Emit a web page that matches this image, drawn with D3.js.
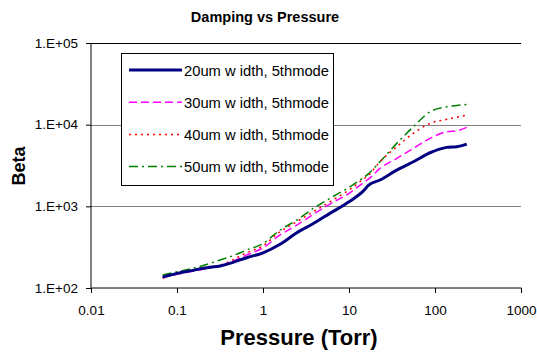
<!DOCTYPE html>
<html>
<head>
<meta charset="utf-8">
<script src="https://cdn.jsdelivr.net/npm/d3@7"></script>
<style>
  body { margin: 0; background: #fff; }
  svg { font-family: "Liberation Sans", Arial, sans-serif; }
</style>
</head>
<body>
<svg id="chart" width="537" height="354"></svg>
<script>
// pressure (Torr) sample points, same for every series
const pressure = [0.068, 0.1, 0.142, 0.242, 0.316, 0.41, 0.645, 1.0, 1.58, 2.47, 3.85, 6.0, 10, 14.7, 16.8, 22.9, 35.9, 56, 87.5, 137, 179, 234]

const beta20 = [136, 151, 162, 179, 186, 200, 235, 270, 343, 475, 617, 820, 1137, 1547, 1806, 2100, 2780, 3515, 4530, 5270, 5370, 5780]
const beta30 = [134, 147, 158, 176, 186, 205, 253, 310, 446, 590, 798, 1067, 1442, 1950, 2150, 2917, 3866, 5130, 6800, 8190, 8420, 9270]
const beta40 = [132, 150, 163, 182, 190, 212, 270, 330, 489, 648, 859, 1137, 1585, 2150, 2400, 3515, 5370, 7820, 10380, 11620, 12300, 13100]
const beta50 = [144, 158, 171, 200, 220, 240, 292, 350, 513, 679, 944, 1253, 1706, 2250, 2500, 3515, 5900, 9420, 14390, 16550, 17200, 17700]

const seriesNames = ["20um w idth, 5thmode", "30um w idth, 5thmode", "40um w idth, 5thmode", "50um w idth, 5thmode"]
const xTicks = [0.01, 0.1, 1, 10, 100, 1000]
const yTicks = [1e2, 1e3, 1e4, 1e5]

const series = [
    { name: seriesNames[0], values: beta20, color: "#000080", width: 3, dash: null },
    { name: seriesNames[1], values: beta30, color: "#ff00ff", width: 1.5, dash: "8,4" },
    { name: seriesNames[2], values: beta40, color: "#ff0000", width: 1.5, dash: "2,4" },
    { name: seriesNames[3], values: beta50, color: "#008000", width: 1.5, dash: "9,4,2,4" }
]

const margin = { top: 43, right: 16, bottom: 66, left: 91 }
const width = 537 - margin.left - margin.right
const height = 354 - margin.top - margin.bottom

const svg = d3.select("#chart")
const g = svg.append("g")
    .attr("transform", "translate(" + margin.left + "," + margin.top + ")")

const x = d3.scaleLog().domain([0.01, 1000]).range([0, width])
const y = d3.scaleLog().domain([1e2, 1e5]).range([height, 0])

// horizontal gridlines
g.selectAll(".grid")
    .data(yTicks.slice(1))
    .enter().append("line")
    .attr("x1", 0)
    .attr("x2", width)
    .attr("y1", d => Math.round(y(d)) + 0.5)
    .attr("y2", d => Math.round(y(d)) + 0.5)
    .attr("stroke", d => d === 1e5 ? "#000" : "#808080")
    .attr("stroke-width", 1)

// axes
const fmtY = d => "1.E+0" + Math.round(Math.log10(d))
const yAxis = g.append("g")
    .call(d3.axisLeft(y).tickValues(yTicks).tickFormat(fmtY).tickSize(5).tickPadding(8))
const xAxis = g.append("g")
    .attr("transform", "translate(0," + height + ")")
    .call(d3.axisBottom(x).tickValues(xTicks).tickFormat(d => String(d)).tickSize(5).tickPadding(12))

;[xAxis, yAxis].forEach(a => {
    a.select(".domain").attr("stroke", "#000")
    a.selectAll(".tick line").attr("stroke", "#000")
    a.selectAll("text").attr("font-size", 13.5).attr("fill", "#000")
        .attr("font-family", "'Liberation Sans', Arial, sans-serif")
})
xAxis.select(".domain").attr("d", "M0.5,0H" + (width + 0.5))
yAxis.select(".domain").attr("d", "M0,0.5V" + (height + 0.5))

// lines
const line = d3.line()
    .x((d, i) => x(pressure[i]))
    .y(d => y(d))
    .curve(d3.curveMonotoneX)

series.slice().reverse().forEach(s => {
    g.append("path")
        .datum(s.values)
        .attr("fill", "none")
        .attr("stroke", s.color)
        .attr("stroke-width", s.width)
        .attr("stroke-dasharray", s.dash)
        .attr("d", line)
})

// legend
const legend = svg.append("g")
legend.append("rect")
    .attr("x", 121.5).attr("y", 53.5)
    .attr("width", 212).attr("height", 132)
    .attr("fill", "#fff").attr("stroke", "#000")

series.forEach((s, i) => {
    const ly = 70 + i * 32.2
    legend.append("line")
        .attr("x1", 129).attr("x2", 182)
        .attr("y1", ly).attr("y2", ly)
        .attr("stroke", s.color)
        .attr("stroke-width", s.width)
        .attr("stroke-dasharray", s.dash)
    legend.append("text")
        .attr("x", 184).attr("y", ly)
        .attr("dy", "0.36em")
        .attr("font-size", 15.5)
        .attr("textLength", 145)
        .attr("lengthAdjust", "spacingAndGlyphs")
        .text(s.name)
})

// titles
svg.append("text")
    .attr("x", 265).attr("y", 22)
    .attr("text-anchor", "middle")
    .attr("font-size", 14.5).attr("font-weight", "bold")
    .text("Damping vs Pressure")

svg.append("text")
    .attr("x", 299).attr("y", 345)
    .attr("text-anchor", "middle")
    .attr("font-size", 22).attr("font-weight", "bold")
    .text("Pressure (Torr)")

svg.append("text")
    .attr("transform", "translate(25,166) rotate(-90)")
    .attr("text-anchor", "middle")
    .attr("font-size", 18).attr("font-weight", "bold")
    .text("Beta")
</script>
</body>
</html>
